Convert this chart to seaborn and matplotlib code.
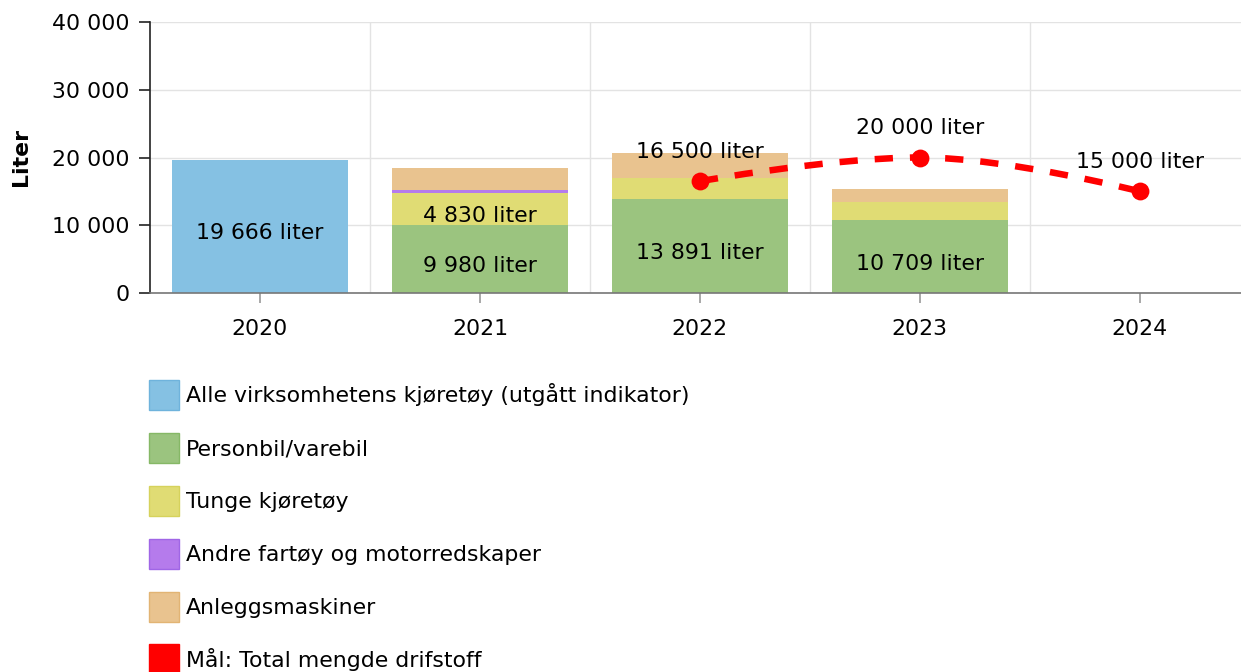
import numpy as np
import pandas as pd
import seaborn as sns
import matplotlib
matplotlib.use('Agg')
import matplotlib.pyplot as plt
from matplotlib.path import Path
from matplotlib.patches import PathPatch, Patch
from matplotlib.ticker import FuncFormatter, FixedLocator

# ------------------------------------------------------------------
# Data (liter drivstoff per år)
# ------------------------------------------------------------------
years = ["2020", "2021", "2022", "2023", "2024"]

alle_kjoretoy = [19666, np.nan, np.nan, np.nan, np.nan]
personbil = [np.nan, 9980, 13891, 10709, np.nan]
tunge = [np.nan, 4830, 3050, 2720, np.nan]
andre = [np.nan, 400, 60, 0, np.nan]
anlegg = [np.nan, 3250, 3730, 1850, np.nan]
maal = [np.nan, np.nan, 16500, 20000, 15000]

labels = ["Alle virksomhetens kjøretøy (utgått indikator)", "Personbil/varebil",
          "Tunge kjøretøy", "Andre fartøy og motorredskaper", "Anleggsmaskiner",
          "Mål: Total mengde drifstoff"]
colors = ["#85c1e3", "#9bc47f", "#e0dc74", "#b57bec", "#e9c38f", "#ff0000"]
edges = ["#6fb3dc", "#86b866", "#d6d25c", "#a066e6", "#e2b474", "#ff0000"]

FS = 15.8


def fmt(v):
    return f"{v:,.0f}".replace(",", " ")


def spline_path(xs, ys, smoothing=1.5):
    # kontrollpunkter i stil med Highcharts "spline"
    n = len(xs)
    left = [None] * n
    right = [None] * n
    denom = smoothing + 1
    for i in range(1, n - 1):
        x, y = xs[i], ys[i]
        lx, ly, nx, ny = xs[i - 1], ys[i - 1], xs[i + 1], ys[i + 1]
        lcx, lcy = (smoothing * x + lx) / denom, (smoothing * y + ly) / denom
        rcx, rcy = (smoothing * x + nx) / denom, (smoothing * y + ny) / denom
        corr = (rcy - lcy) * (rcx - x) / (rcx - lcx) + y - rcy
        lcy += corr
        rcy += corr
        if lcy > ly and lcy > y:
            lcy = max(ly, y)
            rcy = 2 * y - lcy
        elif lcy < ly and lcy < y:
            lcy = min(ly, y)
            rcy = 2 * y - lcy
        if rcy > ny and rcy > y:
            rcy = max(ny, y)
            lcy = 2 * y - rcy
        elif rcy < ny and rcy < y:
            rcy = min(ny, y)
            lcy = 2 * y - rcy
        left[i] = (lcx, lcy)
        right[i] = (rcx, rcy)
    verts = [(xs[0], ys[0])]
    codes = [Path.MOVETO]
    for i in range(1, n):
        c1 = right[i - 1] if right[i - 1] else (xs[i - 1], ys[i - 1])
        c2 = left[i] if left[i] else (xs[i], ys[i])
        verts += [c1, c2, (xs[i], ys[i])]
        codes += [Path.CURVE4] * 3
    return Path(verts, codes)


sns.set_theme(style="white")
plt.rcParams['font.family'] = ['DejaVu Sans']
plt.rcParams['text.color'] = 'black'

fig = plt.figure(figsize=(12.41, 6.72), dpi=100)
ax = fig.add_axes([150 / 1241, 1 - 293 / 672, (1241 - 150) / 1241, 271 / 672])

# Stablede søyler: tegn kumulative summer fra toppen og ned
stack = np.array([personbil, tunge, andre, anlegg], dtype=float)
cum = np.nancumsum(stack, axis=0)
valid = ~np.isnan(stack[0])

for k in range(stack.shape[0] - 1, -1, -1):
    df = pd.DataFrame({"year": np.array(years)[valid], "value": cum[k][valid]})
    sns.barplot(data=df, x="year", y="value", order=years, color=colors[k + 1],
                saturation=1, width=0.8, errorbar=None, linewidth=0, ax=ax, zorder=2)

df_alle = pd.DataFrame({"year": years, "value": alle_kjoretoy}).dropna()
sns.barplot(data=df_alle, x="year", y="value", order=years, color=colors[0],
            saturation=1, width=0.8, errorbar=None, linewidth=0, ax=ax, zorder=2)

# Verdietiketter i søylene
for i, v in enumerate(alle_kjoretoy):
    if not np.isnan(v):
        ax.annotate(f"{fmt(v)} liter", (i, v / 2), xytext=(0, -5), textcoords="offset points",
                    ha="center", va="center", fontsize=FS, color="black", zorder=6)
for k in range(stack.shape[0]):
    for i in range(len(years)):
        v = stack[k, i]
        if not np.isnan(v) and v >= 4000:
            mid = cum[k, i] - v / 2
            ax.annotate(f"{fmt(v)} liter", (i, mid), xytext=(0, -5), textcoords="offset points",
                        ha="center", va="center", fontsize=FS, color="black", zorder=6)

# Mål-linje
tx = [i for i, v in enumerate(maal) if not np.isnan(v)]
ty = [v for v in maal if not np.isnan(v)]
ax.add_patch(PathPatch(spline_path(tx, ty), facecolor="none", edgecolor=colors[5],
                       lw=4.7, linestyle=(0, (2.8, 2.6)), capstyle="butt", zorder=4))
sns.scatterplot(x=tx, y=ty, s=165, color=colors[5], linewidth=0, ax=ax, zorder=5)
for x, y in zip(tx, ty):
    ax.annotate(f"{fmt(y)} liter", (x, y), xytext=(0, 21), textcoords="offset points",
                ha="center", va="center", fontsize=FS, color="black", zorder=6)

# Akser
ax.set_xlim(-0.5, 4.46)
ax.set_ylim(0, 40000)
ax.yaxis.set_major_locator(FixedLocator([0, 10000, 20000, 30000, 40000]))
ax.yaxis.set_major_formatter(FuncFormatter(lambda v, p: fmt(v)))
ax.set_xticks(range(len(years)))
ax.set_xticklabels(years)
ax.xaxis.set_minor_locator(FixedLocator([0.5, 1.5, 2.5, 3.5]))
ax.set_xlabel("")
ax.set_ylabel("Liter", fontsize=FS, fontweight="bold", color="black")
ax.yaxis.set_label_coords(-0.109, 0.5)

ax.grid(False)
ax.grid(axis="y", which="major", color="#e3e3e3", lw=1, zorder=0)
ax.grid(axis="x", which="minor", color="#e3e3e3", lw=1, zorder=0)
ax.set_axisbelow(True)

for s in ["top", "right"]:
    ax.spines[s].set_visible(False)
ax.spines["left"].set_color("#222222")
ax.spines["left"].set_linewidth(1.2)
ax.spines["bottom"].set_color("#777777")
ax.spines["bottom"].set_linewidth(1.2)

ax.tick_params(axis="y", which="major", left=True, length=8, width=1.2, color="#222222",
               pad=7, labelsize=FS, labelcolor="black")
ax.tick_params(axis="x", which="major", bottom=True, length=7, width=1.2, color="#999999",
               pad=12, labelsize=FS, labelcolor="black")
ax.tick_params(axis="x", which="minor", bottom=False)

# Tegnforklaring
handles = [Patch(facecolor=c, edgecolor=e, lw=1) for c, e in zip(colors, edges)]
fig.legend(handles, labels, loc="upper left", bbox_to_anchor=(149 / 1241, 1 - 380 / 672),
           frameon=False, fontsize=FS, handlelength=1.37, handleheight=1.73,
           labelspacing=1.04, handletextpad=0.32, borderpad=0, borderaxespad=0,
           labelcolor="black")

plt.savefig("out.png", dpi=100)
plt.close()
